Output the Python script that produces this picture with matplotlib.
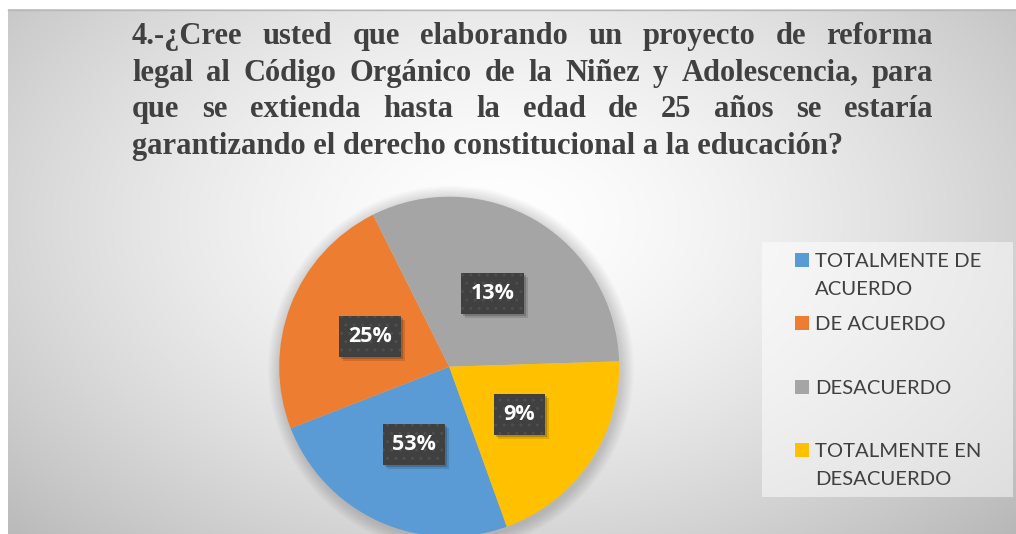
import numpy as np
import matplotlib
matplotlib.use('Agg')
import matplotlib.pyplot as plt
from matplotlib.patches import Rectangle, Circle
from matplotlib.lines import Line2D

W, H = 1016, 534

title_lines = [
    "4.-¿Cree usted que elaborando un proyecto de reforma",
    "legal al Código Orgánico de la Niñez y Adolescencia, para",
    "que se extienda hasta la edad de 25 años se estaría",
    "garantizando el derecho constitucional a la educación?",
]
categories = ["TOTALMENTE DE\nACUERDO", "DE ACUERDO", "DESACUERDO", "TOTALMENTE EN\nDESACUERDO"]
slice_share = [24.6, 23.5, 31.9, 20.0]
pct_labels = ["53%", "25%", "13%", "9%"]
colors = ["#5B9BD5", "#ED7D31", "#A5A5A5", "#FFC000"]

TXT = '#404040'


def fx(x):
    return x / W


def fy(y):
    return 1 - y / H


fig = plt.figure(figsize=(W / 100, H / 100), dpi=100)

# chart area background, radial grey gradient
bg = fig.add_axes([fx(8), 0, 1 - fx(8), fy(9)])
xx, yy = np.meshgrid(np.arange(8, W), np.arange(9, H))
r = np.sqrt(((xx - 500) / 620.) ** 2 + ((yy - 220) / 400.) ** 2)
shade = 1 - 0.23 * np.clip(r, 0, 1.2) ** 1.5
bg.imshow(np.dstack([shade] * 3), aspect='auto', interpolation='bilinear')
bg.axis('off')
fig.add_artist(Line2D([fx(8), 1], [fy(9.5), fy(9.5)], color='#b8b8b8', lw=1))

# pie
cx, cy, R = 449.2, 366.7, 170
ax = fig.add_axes([fx(cx - R), fy(cy + R), 2 * R / W, 2 * R / H])
for k in range(1, 11):
    ax.add_patch(Circle((0.01, -0.012), 1 + k * 1.3 / R, fc='black', ec='none',
                        alpha=0.016, zorder=0, clip_on=False))

it = iter(pct_labels)
wedges, texts, autotexts = ax.pie(
    slice_share, colors=colors, startangle=-70.2, counterclock=False, radius=1,
    autopct=lambda p: next(it), pctdistance=0.5,
    wedgeprops=dict(linewidth=0),
    textprops=dict(color='white', fontsize=15.5, fontweight='bold', family='Open Sans'))
ax.set_xlim(-1, 1)
ax.set_ylim(-1, 1)

fig.canvas.draw()
renderer = fig.canvas.get_renderer()

# dark label boxes with a soft drop shadow
for t in autotexts:
    t.set_zorder(6)
    bb = t.get_window_extent(renderer)
    mx, my = (bb.x0 + bb.x1) / 2, (bb.y0 + bb.y1) / 2
    bw, bh = bb.width + 19, 41
    for off, a in [(2, 0.18), (4, 0.12)]:
        ax.add_artist(Rectangle(((mx - bw / 2 + off) / W, (my - bh / 2 - off) / H), bw / W, bh / H,
                                transform=fig.transFigure, fc='black', ec='none', alpha=a,
                                zorder=4, clip_on=False))
    ax.add_artist(Rectangle(((mx - bw / 2) / W, (my - bh / 2) / H), bw / W, bh / H,
                            transform=fig.transFigure, fc='#404040', ec='#4e4e4e', lw=0,
                            hatch='..', zorder=5, clip_on=False))

# title, justified
tprops = dict(family='Liberation Serif', fontweight='bold', fontsize=22, color=TXT, va='baseline', ha='left')
x0, x1 = 132, 933
for i, line in enumerate(title_lines):
    base = fy(44 + i * 36.7)
    if i == len(title_lines) - 1:
        fig.text(fx(x0), base, line, **tprops)
        continue
    words = line.split()
    objs = [fig.text(0, base, w, **tprops) for w in words]
    widths = [o.get_window_extent(renderer).width for o in objs]
    gap = (x1 - x0 - sum(widths)) / (len(words) - 1)
    x = x0
    for o, w in zip(objs, widths):
        o.set_x(fx(x))
        x += w + gap

# legend
fig.add_artist(Rectangle((fx(762), fy(497)), (1013 - 762) / W, (497 - 242) / H,
                         transform=fig.transFigure, fc='white', alpha=0.5, ec='none'))
centers = [260, 323, 387, 450]
for lab, col, c in zip(categories, colors, centers):
    fig.add_artist(Rectangle((fx(795), fy(c + 7)), 14 / W, 14 / H,
                             transform=fig.transFigure, fc=col, ec='none'))
    for j, part in enumerate(lab.split('\n')):
        fig.text(fx(815), fy(c + 7 + j * 28), part, family='Lato', fontsize=14.6,
                 color=TXT, va='baseline', ha='left')

fig.savefig('out.png', dpi=100)
